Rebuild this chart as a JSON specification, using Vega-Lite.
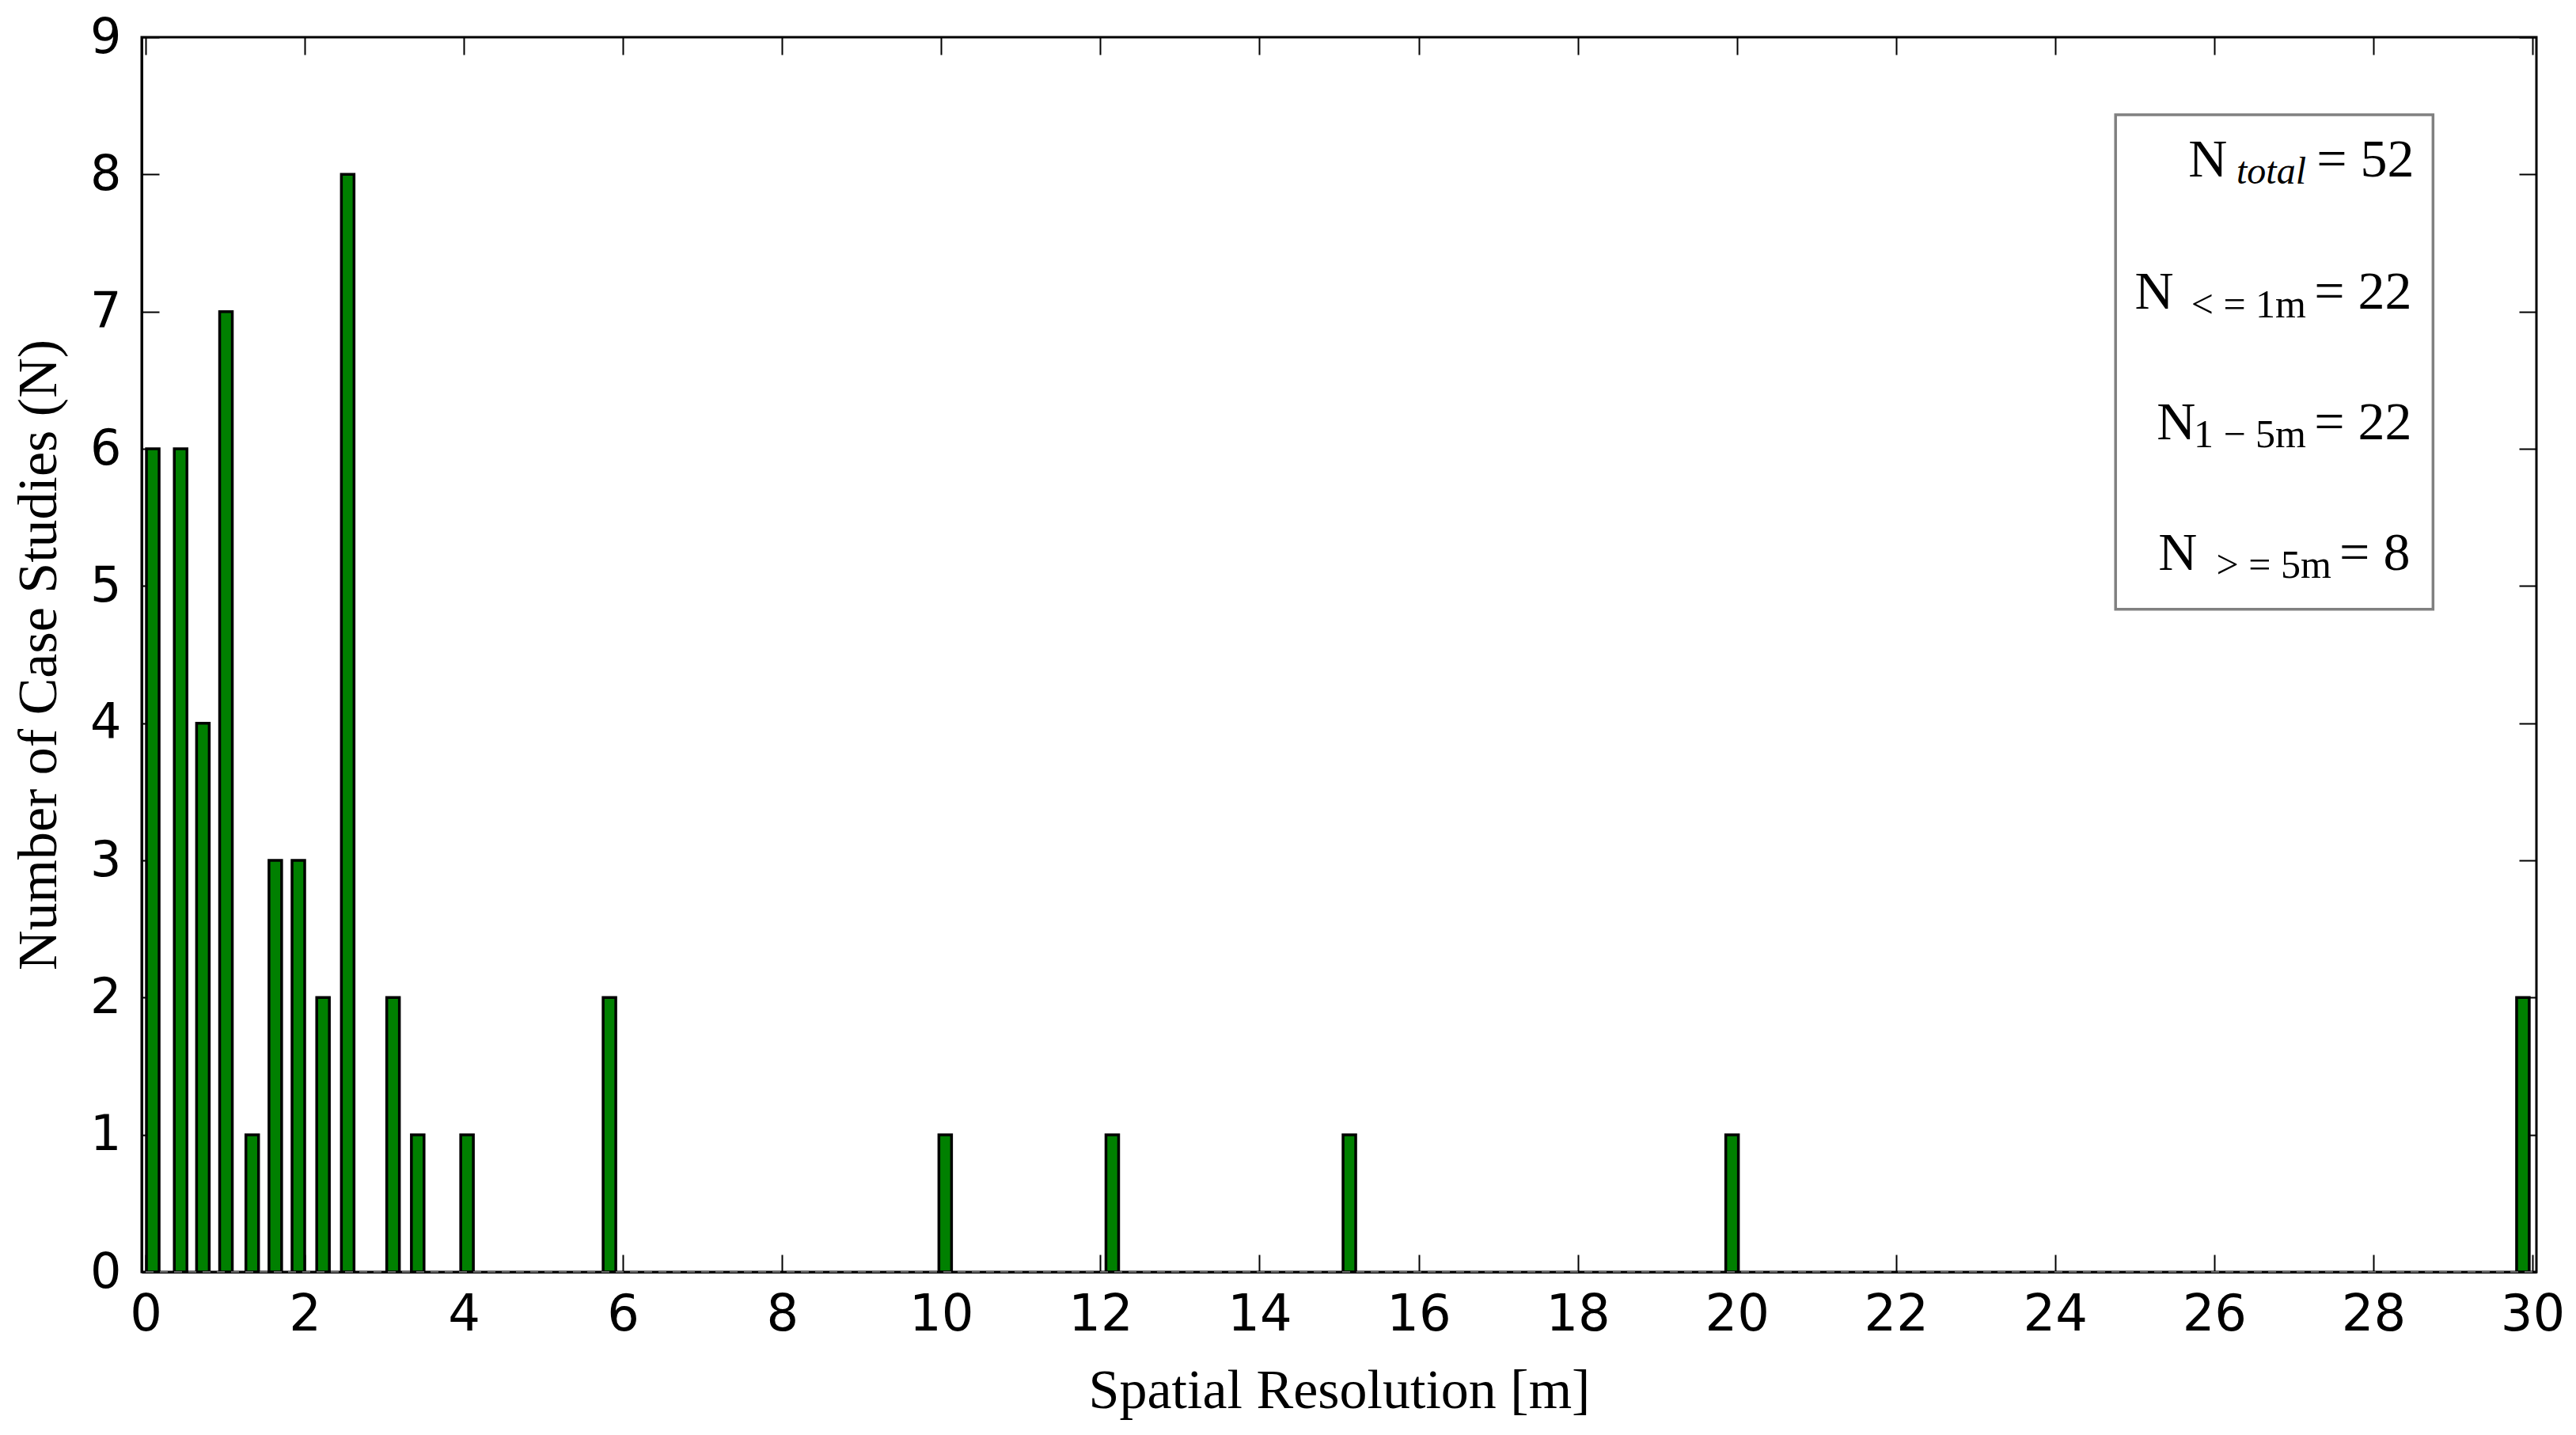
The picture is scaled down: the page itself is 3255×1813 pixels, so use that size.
{
  "$schema": "https://vega.github.io/schema/vega-lite/v6.json",
  "width": 3026,
  "height": 1560,
  "autosize": "none",
  "padding": {"left": 179, "top": 47, "right": 50, "bottom": 206},
  "background": "white",
  "config": {
    "view": {"stroke": "black", "strokeWidth": 3},
    "axis": {
      "domainColor": "black",
      "domainWidth": 3,
      "tickColor": "black",
      "tickWidth": 2,
      "tickSize": -22,
      "grid": false,
      "labelFont": "DejaVu Sans",
      "labelColor": "black",
      "titleFont": "Liberation Serif",
      "titleFontWeight": "normal",
      "titleColor": "black",
      "titleFontSize": 70,
      "zindex": 1
    }
  },
  "layer": [
    {
      "data": {
        "values": [
          {"resolution": 0.09, "count": 6},
          {"resolution": 0.44, "count": 6},
          {"resolution": 0.72, "count": 4},
          {"resolution": 1.01, "count": 7},
          {"resolution": 1.34, "count": 1},
          {"resolution": 1.63, "count": 3},
          {"resolution": 1.92, "count": 3},
          {"resolution": 2.23, "count": 2},
          {"resolution": 2.54, "count": 8},
          {"resolution": 3.11, "count": 2},
          {"resolution": 3.42, "count": 1},
          {"resolution": 4.04, "count": 1},
          {"resolution": 5.83, "count": 2},
          {"resolution": 10.05, "count": 1},
          {"resolution": 12.15, "count": 1},
          {"resolution": 15.13, "count": 1},
          {"resolution": 19.94, "count": 1},
          {"resolution": 29.88, "count": 2}
        ]
      },
      "layer": [
        {
          "mark": {"type": "bar", "size": 16, "fill": "#008000", "stroke": "black", "strokeWidth": 3.5},
          "encoding": {
            "x": {
              "field": "resolution",
              "type": "quantitative",
              "scale": {"domain": [0, 30], "nice": false, "zero": false},
              "axis": {
                "orient": "bottom",
                "values": [0, 2, 4, 6, 8, 10, 12, 14, 16, 18, 20, 22, 24, 26, 28, 30],
                "labelFontSize": 64,
                "labelPadding": 44,
                "labelFlush": false,
                "title": "Spatial Resolution [m]",
                "titlePadding": 30
              }
            },
            "y": {
              "field": "count",
              "type": "quantitative",
              "scale": {"domain": [0, 9], "nice": false},
              "axis": {
                "orient": "left",
                "values": [0, 1, 2, 3, 4, 5, 6, 7, 8, 9],
                "labelFontSize": 62,
                "labelPadding": 48,
                "labelFlush": false,
                "title": "Number of Case Studies (N)",
                "titlePadding": 28
              }
            }
          }
        },
        {
          "mark": {"type": "bar", "size": 16, "opacity": 0},
          "encoding": {
            "x": {
              "field": "resolution",
              "type": "quantitative",
              "axis": {"orient": "top", "values": [0, 2, 4, 6, 8, 10, 12, 14, 16, 18, 20, 22, 24, 26, 28, 30], "labels": false, "title": null, "domain": false}
            },
            "y": {
              "field": "count",
              "type": "quantitative",
              "axis": {"orient": "right", "values": [0, 1, 2, 3, 4, 5, 6, 7, 8, 9], "labels": false, "title": null, "domain": false}
            }
          }
        }
      ]
    },
    {
      "data": {"values": [{}]},
      "layer": [
        {
          "mark": {"type": "rule", "strokeDash": [10, 8], "color": "#666666", "strokeWidth": 2},
          "encoding": {"x": {"datum": 0, "axis": null}, "x2": {"datum": 30}, "y": {"datum": 0, "axis": null}}
        },
        {
          "mark": {"type": "rect", "fill": "white", "stroke": "#808080", "strokeWidth": 3.5},
          "encoding": {
            "x": {"datum": 24.76, "axis": null},
            "x2": {"datum": 28.75},
            "y": {"datum": 8.435, "axis": null},
            "y2": {"datum": 4.83}
          }
        },
        {"mark": {"type": "text", "text": "N", "align": "right", "baseline": "alphabetic", "font": "Liberation Serif", "fontSize": 68, "color": "black"},
         "encoding": {"x": {"datum": 26.163, "axis": null}, "y": {"datum": 7.985, "axis": null}}},
        {"mark": {"type": "text", "text": "total", "align": "right", "baseline": "alphabetic", "font": "Liberation Serif", "fontStyle": "italic", "fontSize": 48, "color": "black"},
         "encoding": {"x": {"datum": 27.155, "axis": null}, "y": {"datum": 7.93, "axis": null}}},
        {"mark": {"type": "text", "text": "= 52", "align": "right", "baseline": "alphabetic", "font": "Liberation Serif", "fontSize": 68, "color": "black"},
         "encoding": {"x": {"datum": 28.513, "axis": null}, "y": {"datum": 7.985, "axis": null}}},
        {"mark": {"type": "text", "text": "N", "align": "right", "baseline": "alphabetic", "font": "Liberation Serif", "fontSize": 68, "color": "black"},
         "encoding": {"x": {"datum": 25.489, "axis": null}, "y": {"datum": 7.021, "axis": null}}},
        {"mark": {"type": "text", "text": "< = 1m", "align": "right", "baseline": "alphabetic", "font": "Liberation Serif", "fontSize": 50, "color": "black"},
         "encoding": {"x": {"datum": 27.155, "axis": null}, "y": {"datum": 6.96, "axis": null}}},
        {"mark": {"type": "text", "text": "= 22", "align": "right", "baseline": "alphabetic", "font": "Liberation Serif", "fontSize": 68, "color": "black"},
         "encoding": {"x": {"datum": 28.483, "axis": null}, "y": {"datum": 7.021, "axis": null}}},
        {"mark": {"type": "text", "text": "N", "align": "right", "baseline": "alphabetic", "font": "Liberation Serif", "fontSize": 68, "color": "black"},
         "encoding": {"x": {"datum": 25.767, "axis": null}, "y": {"datum": 6.069, "axis": null}}},
        {"mark": {"type": "text", "text": "1 − 5m", "align": "right", "baseline": "alphabetic", "font": "Liberation Serif", "fontSize": 50, "color": "black"},
         "encoding": {"x": {"datum": 27.155, "axis": null}, "y": {"datum": 6.01, "axis": null}}},
        {"mark": {"type": "text", "text": "= 22", "align": "right", "baseline": "alphabetic", "font": "Liberation Serif", "fontSize": 68, "color": "black"},
         "encoding": {"x": {"datum": 28.483, "axis": null}, "y": {"datum": 6.069, "axis": null}}},
        {"mark": {"type": "text", "text": "N", "align": "right", "baseline": "alphabetic", "font": "Liberation Serif", "fontSize": 68, "color": "black"},
         "encoding": {"x": {"datum": 25.787, "axis": null}, "y": {"datum": 5.117, "axis": null}}},
        {"mark": {"type": "text", "text": "> = 5m", "align": "right", "baseline": "alphabetic", "font": "Liberation Serif", "fontSize": 50, "color": "black"},
         "encoding": {"x": {"datum": 27.472, "axis": null}, "y": {"datum": 5.057, "axis": null}}},
        {"mark": {"type": "text", "text": "= 8", "align": "right", "baseline": "alphabetic", "font": "Liberation Serif", "fontSize": 68, "color": "black"},
         "encoding": {"x": {"datum": 28.463, "axis": null}, "y": {"datum": 5.117, "axis": null}}}
      ]
    }
  ],
  "resolve": {"axis": {"x": "independent", "y": "independent"}}
}
